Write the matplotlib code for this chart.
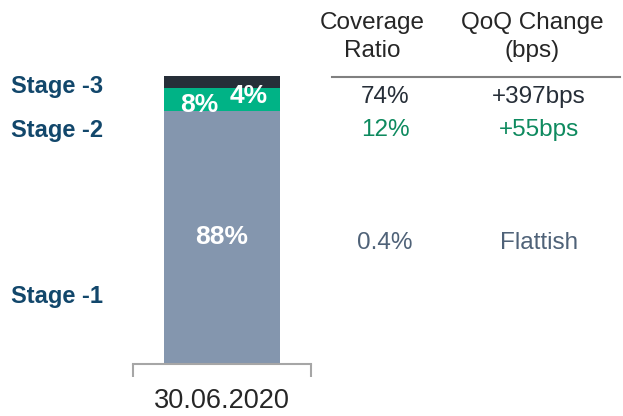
import matplotlib.pyplot as plt
from matplotlib.lines import Line2D

plt.rcParams['font.family'] = ['Liberation Sans', 'DejaVu Sans']

# data
period = '30.06.2020'
stages = ['Stage -1', 'Stage -2', 'Stage -3']
shares = [88, 8, 4]
share_labels = ['88%', '8%', '4%']
coverage = ['0.4%', '12%', '74%']
qoq_change = ['Flattish', '+55bps', '+397bps']
bar_colors = ['#8496ae', '#00b386', '#262e38']
text_colors = ['#4f6278', '#0e8a5f', '#262e38']

fig = plt.figure(figsize=(6.23, 4.16), dpi=100)
W, H = 623, 416

def fx(px):
    return px / W

def fy(py):
    return 1 - py / H

# bar axes: bottom at y=364px, 100% at y=76px
ax = fig.add_axes([fx(133), fy(364), fx(311) - fx(133), (364 - 76) / H])
ax.set_xlim(-0.5, 0.5)
ax.set_ylim(0, 100)

bottom = 0
for s, c in zip(shares, bar_colors):
    ax.bar(0, s, width=0.652, bottom=bottom, color=c, linewidth=0)
    bottom += s

# bar labels
ax.text(0, 44, share_labels[0], color='white', fontsize=19, fontweight='bold',
        ha='center', va='center')
ax.text(-0.125, 90, share_labels[1], color='white', fontsize=19, fontweight='bold',
        ha='center', va='center')
ax.text(0.15, 93, share_labels[2], color='white', fontsize=19, fontweight='bold',
        ha='center', va='center')

for side in ['top', 'right', 'left']:
    ax.spines[side].set_visible(False)
ax.spines['bottom'].set_color('#a6a6a6')
ax.spines['bottom'].set_linewidth(1.5)
ax.set_yticks([])
ax.set_xticks([0])
ax.set_xticklabels([period], fontsize=19.5, color='#262626')
ax.tick_params(axis='x', which='major', length=0, pad=17)
ax.set_xticks([-0.5, 0.5], minor=True)
ax.tick_params(axis='x', which='minor', length=9, width=1.5, color='#a6a6a6')

# stage labels
stage_y = [296, 130, 86]
for name, y in zip(stages, stage_y):
    fig.text(fx(11), fy(y), name, fontsize=17, fontweight='bold', color='#12476b',
             ha='left', va='center')

# table header
fig.text(fx(372), fy(37), 'Coverage\nRatio', fontsize=17.5, color='#262626',
         ha='center', va='center', linespacing=1.3)
fig.text(fx(532), fy(37), 'QoQ Change\n(bps)', fontsize=17.5, color='#262626',
         ha='center', va='center', linespacing=1.3)
fig.add_artist(Line2D([fx(332), fx(620)], [fy(77), fy(77)], color='#808080', lw=1.5))

# table rows
row_y = [243, 130, 97]
for cov, chg, col, y in zip(coverage, qoq_change, text_colors, row_y):
    fig.text(fx(385), fy(y), cov, fontsize=17.5, color=col, ha='center', va='center')
    fig.text(fx(539), fy(y), chg, fontsize=17.5, color=col, ha='center', va='center')

fig.savefig('out.png', dpi=100)
